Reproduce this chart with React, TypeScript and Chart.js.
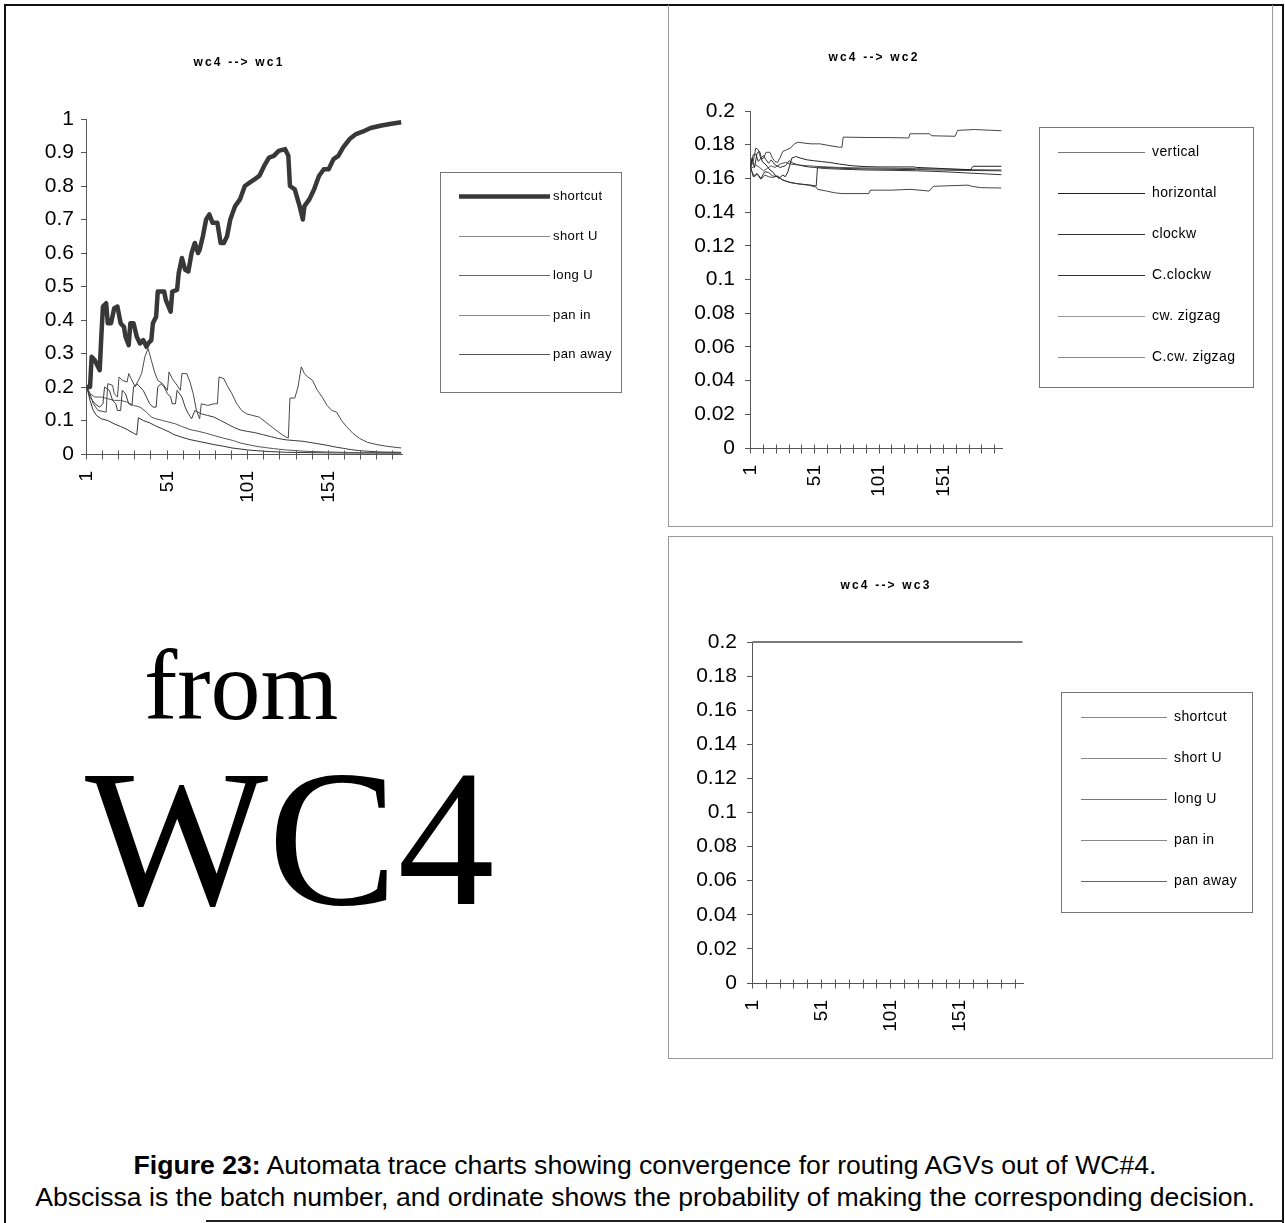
import React, { useEffect, useRef } from "react";
import { Chart, registerables } from "chart.js";

Chart.register(...registerables);

// ---------------- data ----------------
const xTickLabels = [1, 51, 101, 151];
const batchCount = 196;

// wc4 --> wc1  ([batch, probability])
const wc1Labels = ["shortcut", "short U", "long U", "pan in", "pan away"];
const wc1Shortcut: [number, number][] = [
  [1, 0.2], [3, 0.2], [4, 0.29], [6, 0.28], [8, 0.26], [9, 0.25], [10, 0.35], [11, 0.44], [13, 0.45],
  [14, 0.39], [16, 0.39], [18, 0.435], [20, 0.44], [22, 0.39], [24, 0.38], [25, 0.35], [27, 0.325],
  [28, 0.39], [30, 0.39], [32, 0.35], [34, 0.33], [36, 0.34], [38, 0.32], [39, 0.33], [41, 0.34],
  [42, 0.39], [44, 0.41], [45, 0.485], [49, 0.485], [50, 0.46], [53, 0.425], [54, 0.485], [57, 0.49],
  [58, 0.54], [60, 0.585], [62, 0.55], [64, 0.545], [66, 0.6], [68, 0.63], [70, 0.6], [71, 0.61],
  [73, 0.65], [75, 0.7], [77, 0.715], [79, 0.69], [82, 0.69], [84, 0.63], [86, 0.63], [88, 0.65],
  [90, 0.7], [93, 0.74], [96, 0.76], [99, 0.8], [102, 0.81], [105, 0.82], [108, 0.83], [111, 0.86],
  [114, 0.885], [117, 0.89], [120, 0.905], [124, 0.91], [126, 0.89], [127, 0.8], [130, 0.79],
  [133, 0.74], [135, 0.7], [136, 0.74], [139, 0.76], [142, 0.79], [145, 0.83], [148, 0.85],
  [151, 0.85], [154, 0.88], [157, 0.89], [160, 0.915], [164, 0.94], [168, 0.955], [172, 0.962],
  [177, 0.973], [183, 0.98], [189, 0.985], [196, 0.99],
];
const wc1ShortU: [number, number][] = [
  [1, 0.2], [3, 0.18], [5, 0.15], [8, 0.13], [13, 0.125], [14, 0.21], [17, 0.205], [18, 0.18],
  [20, 0.17], [21, 0.23], [23, 0.22], [26, 0.215], [27, 0.24], [29, 0.22], [31, 0.2], [33, 0.22],
  [35, 0.24], [37, 0.29], [39, 0.315], [41, 0.28], [43, 0.245], [45, 0.22], [48, 0.21], [51, 0.19],
  [52, 0.245], [54, 0.225], [57, 0.205], [59, 0.19], [60, 0.24], [63, 0.24], [65, 0.215], [67, 0.18],
  [69, 0.13], [71, 0.105], [72, 0.15], [76, 0.145], [80, 0.15], [82, 0.15], [83, 0.23], [86, 0.225],
  [88, 0.205], [91, 0.18], [94, 0.15], [97, 0.13], [100, 0.12], [104, 0.115], [108, 0.11],
  [112, 0.095], [116, 0.08], [120, 0.065], [124, 0.052], [126, 0.048], [127, 0.167], [130, 0.167],
  [132, 0.2], [134, 0.26], [136, 0.24], [138, 0.23], [141, 0.22], [144, 0.19], [147, 0.17],
  [150, 0.145], [153, 0.13], [156, 0.125], [159, 0.1], [162, 0.082], [166, 0.062], [170, 0.047],
  [175, 0.035], [181, 0.028], [187, 0.023], [196, 0.018],
];
const wc1LongU: [number, number][] = [
  [1, 0.2], [3, 0.17], [6, 0.15], [9, 0.14], [11, 0.15], [12, 0.2], [15, 0.19], [17, 0.16],
  [19, 0.15], [20, 0.13], [22, 0.13], [23, 0.19], [25, 0.18], [27, 0.15], [29, 0.145], [30, 0.2],
  [32, 0.21], [34, 0.2], [36, 0.19], [38, 0.17], [40, 0.15], [42, 0.14], [44, 0.14], [45, 0.2],
  [47, 0.21], [49, 0.2], [51, 0.18], [53, 0.17], [54, 0.15], [56, 0.15], [57, 0.19], [60, 0.17],
  [62, 0.14], [64, 0.12], [66, 0.105], [68, 0.13], [70, 0.125], [72, 0.12], [76, 0.115], [80, 0.11],
  [84, 0.1], [88, 0.09], [92, 0.08], [96, 0.072], [100, 0.068], [105, 0.064], [110, 0.058],
  [115, 0.052], [120, 0.046], [125, 0.042], [130, 0.04], [135, 0.038], [140, 0.034], [145, 0.03],
  [150, 0.026], [155, 0.021], [160, 0.017], [165, 0.013], [170, 0.01], [176, 0.008], [183, 0.006],
  [196, 0.005],
];
const wc1PanIn: [number, number][] = [
  [1, 0.2], [3, 0.18], [6, 0.17], [10, 0.17], [14, 0.165], [18, 0.16], [22, 0.16], [26, 0.155],
  [30, 0.145], [34, 0.14], [38, 0.125], [41, 0.11], [44, 0.105], [48, 0.1], [52, 0.095], [56, 0.09],
  [60, 0.082], [65, 0.073], [70, 0.068], [75, 0.062], [80, 0.055], [86, 0.047], [92, 0.04],
  [96, 0.033], [101, 0.028], [106, 0.023], [112, 0.019], [117, 0.016], [125, 0.012], [137, 0.008],
  [150, 0.006], [170, 0.004], [196, 0.003],
];
const wc1PanAway: [number, number][] = [
  [1, 0.2], [3, 0.16], [5, 0.13], [7, 0.115], [10, 0.105], [14, 0.1], [18, 0.09], [22, 0.082],
  [26, 0.073], [30, 0.062], [32, 0.057], [33, 0.108], [36, 0.1], [40, 0.093], [44, 0.083],
  [48, 0.075], [52, 0.066], [55, 0.058], [60, 0.05], [65, 0.043], [70, 0.038], [75, 0.033],
  [80, 0.028], [86, 0.023], [91, 0.018], [96, 0.015], [101, 0.012], [106, 0.01], [115, 0.007],
  [125, 0.005], [140, 0.004], [160, 0.003], [196, 0.003],
];

// wc4 --> wc2
const wc2Labels = ["vertical", "horizontal", "clockw", "C.clockw", "cw. zigzag", "C.cw. zigzag"];
const wc2Vertical: [number, number][] = [
  [1, 0.1667], [3, 0.17], [5, 0.178], [7, 0.177], [9, 0.1715], [11, 0.172], [13, 0.1755],
  [16, 0.1755], [18, 0.172], [20, 0.17], [22, 0.1695], [24, 0.1725], [26, 0.176], [29, 0.177],
  [32, 0.178], [35, 0.1805], [38, 0.1815], [42, 0.181], [48, 0.1805], [55, 0.1805], [62, 0.1795],
  [70, 0.1785], [72, 0.1785], [73, 0.1845], [90, 0.1843], [110, 0.1842], [124, 0.184],
  [125, 0.1865], [140, 0.1865], [142, 0.1853], [160, 0.185], [162, 0.1885], [175, 0.189],
  [196, 0.1883],
];
const wc2Horizontal: [number, number][] = [
  [1, 0.1667], [2, 0.172], [4, 0.1665], [6, 0.175], [8, 0.176], [10, 0.17], [13, 0.168],
  [16, 0.165], [18, 0.164], [20, 0.162], [23, 0.16], [26, 0.162], [28, 0.161], [30, 0.164],
  [33, 0.172], [36, 0.173], [40, 0.172], [45, 0.171], [50, 0.1705], [56, 0.17], [62, 0.1695],
  [70, 0.1685], [80, 0.1675], [90, 0.167], [100, 0.1668], [128, 0.1668], [130, 0.1665],
  [140, 0.1662], [160, 0.1655], [172, 0.1652], [174, 0.1672], [196, 0.1672],
];
const wc2Clockw: [number, number][] = [
  [1, 0.1667], [3, 0.161], [6, 0.163], [9, 0.16], [12, 0.164], [15, 0.1635], [18, 0.1615],
  [22, 0.161], [26, 0.159], [30, 0.158], [36, 0.157], [42, 0.1565], [48, 0.156], [52, 0.1555],
  [53, 0.1667], [60, 0.1665], [70, 0.166], [80, 0.1658], [100, 0.1655], [130, 0.1652],
  [160, 0.1648], [196, 0.1645],
];
const wc2CClockw: [number, number][] = [
  [1, 0.1667], [3, 0.174], [5, 0.1745], [7, 0.17], [9, 0.172], [11, 0.1735], [13, 0.171],
  [15, 0.169], [17, 0.171], [20, 0.168], [24, 0.1665], [28, 0.1675], [31, 0.1705], [34, 0.169],
  [38, 0.168], [44, 0.167], [50, 0.1665], [60, 0.1658], [70, 0.1655], [90, 0.165], [110, 0.1648],
  [130, 0.1645], [150, 0.164], [170, 0.1632], [196, 0.1622],
];
const wc2CwZigzag: [number, number][] = [
  [1, 0.1667], [2, 0.164], [4, 0.161], [6, 0.1625], [9, 0.1595], [12, 0.162], [15, 0.161],
  [18, 0.1605], [22, 0.1615], [25, 0.1595], [28, 0.1585], [32, 0.1575], [36, 0.157], [40, 0.1565],
  [46, 0.156], [52, 0.1548], [53, 0.1535], [60, 0.1525], [66, 0.1515], [72, 0.151], [93, 0.151],
  [94, 0.153], [110, 0.153], [125, 0.1535], [140, 0.1525], [143, 0.1553], [170, 0.156],
  [173, 0.1553], [180, 0.1545], [196, 0.1543],
];
const wc2CCwZigzag: [number, number][] = [
  [1, 0.1667], [3, 0.1665], [5, 0.168], [8, 0.1665], [11, 0.1645], [14, 0.166], [17, 0.1675],
  [20, 0.1665], [24, 0.1685], [28, 0.1695], [32, 0.1685], [38, 0.168], [45, 0.1675], [55, 0.167],
  [70, 0.1665], [90, 0.1662], [110, 0.166], [130, 0.1658], [150, 0.1656], [170, 0.1652],
  [196, 0.165],
];

// wc4 --> wc3
const wc3Labels = ["shortcut", "short U", "long U", "pan in", "pan away"];
const wc3Shortcut: [number, number][] = [[1, 0.2], [196, 0.2]];
const wc3ShortU: [number, number][] = [[1, 0.2], [196, 0.2]];
const wc3LongU: [number, number][] = [[1, 0.2], [196, 0.2]];
const wc3PanIn: [number, number][] = [[1, 0.2], [196, 0.2]];
const wc3PanAway: [number, number][] = [[1, 0.2], [196, 0.2]];

// ---------------- styling / layout ----------------
const PAGE_W = 1285;
const PAGE_H = 1223;
const SANS = '"Liberation Sans", Arial, sans-serif';
const SERIF = '"Liberation Serif", "Times New Roman", serif';
const AXIS = "#555";

const crossTicks = {
  id: "crossTicks",
  afterDraw(chart: any, _args: any, opts: any) {
    const xs = chart.scales.x;
    const y = Math.round(chart.chartArea.bottom) + 0.5;
    const ctx = chart.ctx;
    ctx.save();
    ctx.strokeStyle = opts.color || AXIS;
    ctx.lineWidth = 1;
    ctx.beginPath();
    for (let v = 0.5; v <= batchCount; v += opts.every) {
      const x = Math.round(xs.getPixelForValue(v)) + 0.5;
      ctx.moveTo(x, y - opts.up);
      ctx.lineTo(x, y + opts.down);
    }
    ctx.stroke();
    ctx.restore();
  },
};

const boxLegend = {
  id: "boxLegend",
  afterDraw(chart: any, _args: any, o: any) {
    const ctx = chart.ctx;
    ctx.save();
    ctx.strokeStyle = "#777";
    ctx.lineWidth = 1;
    ctx.strokeRect(o.box[0] + 0.5, o.box[1] + 0.5, o.box[2], o.box[3]);
    chart.data.datasets.forEach((ds: any, i: number) => {
      const y = Math.round(o.rowY + i * o.rowGap) + 0.5;
      ctx.strokeStyle = ds.legendColor || ds.borderColor;
      ctx.lineWidth = ds.borderWidth;
      ctx.beginPath();
      ctx.moveTo(o.lineX[0], y);
      ctx.lineTo(o.lineX[1], y);
      ctx.stroke();
      ctx.fillStyle = "#000";
      ctx.font = o.font;
      (ctx as any).letterSpacing = o.letterSpacing || "0px";
      ctx.textBaseline = "middle";
      ctx.textAlign = "left";
      ctx.fillText(ds.label, o.textX, y);
    });
    (ctx as any).letterSpacing = "0px";
    ctx.restore();
  },
};

const posTitle = {
  id: "posTitle",
  afterDraw(chart: any, _args: any, o: any) {
    const ctx = chart.ctx;
    ctx.save();
    ctx.fillStyle = "#000";
    ctx.font = o.font;
    (ctx as any).letterSpacing = o.letterSpacing || "0px";
    ctx.textAlign = "center";
    ctx.textBaseline = "middle";
    ctx.fillText(o.text, o.x, o.y);
    (ctx as any).letterSpacing = "0px";
    ctx.restore();
  },
};

function series(label: string, pts: [number, number][], color: string, width: number, legendColor?: string) {
  return {
    label,
    data: pts.map(([x, y]) => ({ x, y })),
    borderColor: color,
    legendColor: legendColor || color,
    backgroundColor: color,
    borderWidth: width,
    pointRadius: 0,
    tension: 0,
    fill: false,
    clip: 8,
    borderJoinStyle: "round",
  };
}

function fmt(v: number) {
  return String(Math.round(v * 1000) / 1000);
}

function makeConfig(spec: any) {
  const { L, R, T, B, yMax, yStep, yPad, datasets, legend, title } = spec;
  return {
    type: "line",
    data: { datasets },
    options: {
      animation: false,
      responsive: false,
      devicePixelRatio: 1,
      events: [],
      layout: { padding: { left: 0, top: T, right: PAGE_W - R, bottom: 0 } },
      scales: {
        x: {
          type: "linear",
          min: 0.5,
          max: batchCount + 0.5,
          afterBuildTicks: (s: any) => {
            s.ticks = xTickLabels.map((v) => ({ value: v }));
          },
          afterFit: (s: any) => {
            s.height = PAGE_H - B;
          },
          grid: { display: false, drawTicks: false },
          border: { display: true, color: AXIS, width: 1 },
          ticks: {
            autoSkip: false,
            minRotation: 90,
            maxRotation: 90,
            padding: 17,
            color: "#000",
            font: { family: SANS, size: 19 },
            callback: (v: number) => String(v),
          },
        },
        y: {
          type: "linear",
          min: 0,
          max: yMax,
          afterFit: (s: any) => {
            s.width = L;
          },
          grid: { drawOnChartArea: false, drawTicks: true, tickLength: 5, color: AXIS },
          border: { display: true, color: AXIS, width: 1 },
          ticks: {
            stepSize: yStep,
            padding: yPad,
            color: "#000",
            font: { family: SANS, size: 21 },
            callback: (v: number) => fmt(v),
          },
        },
      },
      plugins: {
        legend: { display: false },
        tooltip: { enabled: false },
        title: { display: false },
        crossTicks: { every: 10, up: 4, down: 5 },
        boxLegend: legend,
        posTitle: title,
      },
    },
    plugins: [crossTicks, boxLegend, posTitle],
  };
}

const TITLE_FONT = `bold 12px ${SANS}`;

const configs = [
  makeConfig({
    L: 86, R: 402, T: 119, B: 454, yMax: 1, yStep: 0.1, yPad: 7,
    datasets: [
      series(wc1Labels[0], wc1Shortcut, "#383838", 4.5),
      series(wc1Labels[1], wc1ShortU, "#4a4a4a", 1, "#888"),
      series(wc1Labels[2], wc1LongU, "#3a3a3a", 1, "#666"),
      series(wc1Labels[3], wc1PanIn, "#555", 1, "#888"),
      series(wc1Labels[4], wc1PanAway, "#333", 1, "#555"),
    ],
    legend: {
      box: [440, 172, 181, 220], lineX: [459, 550], textX: 553, rowY: 196, rowGap: 39.5,
      font: `13px ${SANS}`, letterSpacing: "0.4px",
    },
    title: { text: "wc4 --> wc1", x: 239, y: 63, font: TITLE_FONT, letterSpacing: "2.2px" },
  }),
  makeConfig({
    L: 750, R: 1002, T: 111, B: 448, yMax: 0.2, yStep: 0.02, yPad: 10,
    datasets: [
      series(wc2Labels[0], wc2Vertical, "#444", 1, "#777"),
      series(wc2Labels[1], wc2Horizontal, "#222", 1),
      series(wc2Labels[2], wc2Clockw, "#333", 1),
      series(wc2Labels[3], wc2CClockw, "#333", 1),
      series(wc2Labels[4], wc2CwZigzag, "#444", 1, "#999"),
      series(wc2Labels[5], wc2CCwZigzag, "#555", 1, "#888"),
    ],
    legend: {
      box: [1039, 127, 214, 260], lineX: [1058, 1145], textX: 1152, rowY: 152, rowGap: 41,
      font: `14px ${SANS}`, letterSpacing: "0.4px",
    },
    title: { text: "wc4 --> wc2", x: 874, y: 58, font: TITLE_FONT, letterSpacing: "2.2px" },
  }),
  makeConfig({
    L: 752, R: 1023, T: 642, B: 983, yMax: 0.2, yStep: 0.02, yPad: 10,
    datasets: [
      series(wc3Labels[0], wc3Shortcut, "#777", 1, "#888"),
      series(wc3Labels[1], wc3ShortU, "#777", 1, "#888"),
      series(wc3Labels[2], wc3LongU, "#777", 1, "#777"),
      series(wc3Labels[3], wc3PanIn, "#777", 1, "#888"),
      series(wc3Labels[4], wc3PanAway, "#777", 1, "#666"),
    ],
    legend: {
      box: [1061, 692, 191, 220], lineX: [1081, 1167], textX: 1174, rowY: 717, rowGap: 41,
      font: `14px ${SANS}`, letterSpacing: "0.4px",
    },
    title: { text: "wc4 --> wc3", x: 886, y: 586, font: TITLE_FONT, letterSpacing: "2.2px" },
  }),
];

function ChartLayer({ config }: { config: any }) {
  const ref = useRef<HTMLCanvasElement | null>(null);
  useEffect(() => {
    if (!ref.current) return;
    const chart = new Chart(ref.current, config);
    return () => chart.destroy();
  }, [config]);
  return (
    <canvas
      ref={ref}
      width={PAGE_W}
      height={PAGE_H}
      style={{ position: "absolute", left: 0, top: 0, width: PAGE_W, height: PAGE_H }}
    />
  );
}

export default function App() {
  const abs = (s: React.CSSProperties): React.CSSProperties => ({ position: "absolute", ...s });
  const caption: React.CSSProperties = {
    left: 5, width: 1280, fontFamily: SANS, fontSize: 26.6, lineHeight: "normal",
    textAlign: "center", color: "#000", whiteSpace: "nowrap",
  };
  return (
    <div style={abs({ left: 0, top: 0, width: PAGE_W, height: PAGE_H, background: "#fff", overflow: "hidden" })}>
      {/* outer frame */}
      <div style={abs({ left: 4, top: 4, width: 1276, height: 1230, borderLeft: "2px solid #111", borderTop: "2px solid #111", borderRight: "2px solid #111" })} />
      <div style={abs({ left: 206, top: 1220, width: 1078, height: 2, background: "#222" })} />
      {/* panels */}
      <div style={abs({ left: 668, top: 5, width: 603, height: 521, borderLeft: "1px solid #999", borderRight: "1px solid #999", borderBottom: "1px solid #999" })} />
      <div style={abs({ left: 668, top: 536, width: 603, height: 521, border: "1px solid #999" })} />
      {/* big text */}
      <div style={abs({ left: 144, top: 628, fontFamily: SERIF, fontSize: 100, lineHeight: "normal", color: "#000", whiteSpace: "nowrap" })}>from</div>
      <div style={abs({ left: 85, top: 727, fontFamily: SERIF, fontSize: 194, lineHeight: "normal", color: "#000", whiteSpace: "nowrap" })}>WC4</div>
      {/* caption */}
      <div style={abs({ ...caption, top: 1150 })}>
        <b>Figure 23:</b> Automata trace charts showing convergence for routing AGVs out of WC#4.
      </div>
      <div style={abs({ ...caption, top: 1182 })}>
        Abscissa is the batch number, and ordinate shows the probability of making the corresponding decision.
      </div>
      {configs.map((c, i) => (
        <ChartLayer key={i} config={c} />
      ))}
    </div>
  );
}
